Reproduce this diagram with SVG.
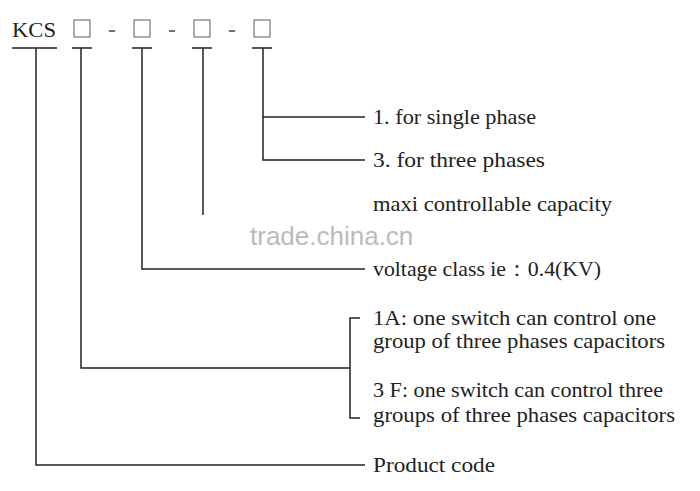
<svg xmlns="http://www.w3.org/2000/svg" width="700" height="491" viewBox="0 0 700 491">
<style>
.l{stroke:#222;stroke-width:1.5;fill:none}
.b{stroke:#777;stroke-width:1.2;fill:none}
text{font-family:"Liberation Serif",serif;font-size:21px;fill:#222}
</style>
<rect width="700" height="491" fill="#fff"/>
<g id="header">
<text x="12" y="37" font-size="21" textLength="44" lengthAdjust="spacingAndGlyphs">KCS</text>
<rect class="b" x="74" y="20" width="16" height="17"/>
<rect class="b" x="134" y="20" width="16" height="17"/>
<rect class="b" x="194" y="20" width="16" height="17"/>
<rect class="b" x="254" y="20" width="16" height="17"/>
<path d="M109 31h6M169 31h6M229 31h6" stroke="#444" stroke-width="1.5"/>
</g>
<text x="250" y="245" style="font-family:'Liberation Sans',sans-serif;font-size:26px;fill:#bbb">trade.china.cn</text>
<g id="connectors">
<path class="l" d="M12 48h45M72 48h20M132 48h20M192 48h20M252 48h20"/>
<path class="l" d="M36 48V465H365"/>
<path class="l" d="M81 48V368H350"/>
<path class="l" d="M142 48V269H365"/>
<path class="l" d="M203 48V215"/>
<path class="l" d="M263 48V160H365M263 117H365"/>
<path class="l" d="M360 318H350V418H360"/>
</g>
<g id="n1"><text x="373" y="124" textLength="163" lengthAdjust="spacingAndGlyphs">1. for single phase</text></g>
<g id="n3"><text x="373" y="167" textLength="172" lengthAdjust="spacingAndGlyphs">3.  for three phases</text></g>
<g id="nmax"><text x="373" y="211" textLength="239" lengthAdjust="spacingAndGlyphs">maxi controllable capacity</text></g>
<g id="nvolt"><text x="373" y="276" textLength="228" lengthAdjust="spacingAndGlyphs">voltage class ie：0.4(KV)</text></g>
<g id="n1a"><text x="373" y="325" textLength="283" lengthAdjust="spacingAndGlyphs">1A: one switch can control one</text><text x="373" y="348" textLength="292" lengthAdjust="spacingAndGlyphs">group of three phases capacitors</text></g>
<g id="n3f"><text x="373" y="397" textLength="290" lengthAdjust="spacingAndGlyphs">3 F: one switch can control three</text><text x="373" y="422" textLength="302" lengthAdjust="spacingAndGlyphs">groups of three phases capacitors</text></g>
<g id="nprod"><text x="373" y="472" textLength="122" lengthAdjust="spacingAndGlyphs">Product code</text></g>
</svg>
